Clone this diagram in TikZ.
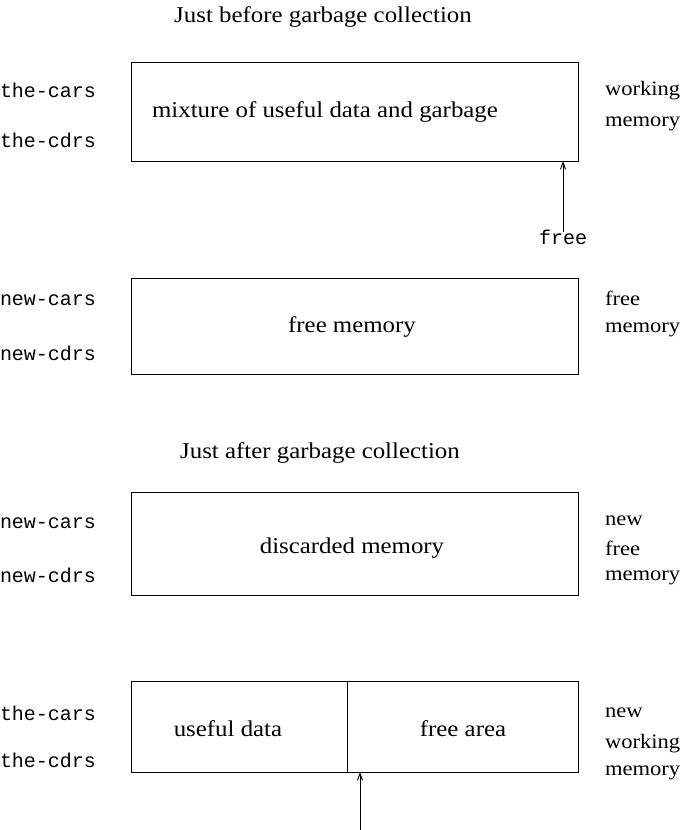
\documentclass[tikz,border=0pt]{standalone}
\usepackage{fontspec}
\setmainfont{Liberation Serif}[FakeStretch=1.1]
\setmonofont{Liberation Mono}
\usetikzlibrary{arrows.meta}
\begin{document}
\begin{tikzpicture}[x=1pt,y=1pt,
  every node/.style={inner sep=0pt,outer sep=0pt},
  txt/.style={font=\fontsize{22.6}{26}\selectfont},
  tt/.style={font=\fontsize{20}{22}\selectfont\ttfamily,anchor=west},
  rl/.style={font=\fontsize{20.5}{24}\selectfont,anchor=west},
  mem/.style={draw,line width=1pt,anchor=north west,minimum height=#1},
  arr/.style={line width=0.9pt,-{Straight Barb[length=7pt,width=5pt]}}]
\useasboundingbox (0,0) rectangle (686,-830);
% titles
\node[txt] (t1) at (323,-17) {Just before garbage collection};
\node[txt] (t2) at (320,-453) {Just after garbage collection};
% box 1
\node[mem=99pt,minimum width=447pt] (b1) at (131,-62) {};
\node[txt] at (325,-112) (m1) {mixture of useful data and garbage};
\node[tt] (l1a) at (0,-90) {the-cars};
\node[tt] (l1b) at (0,-140) {the-cdrs};
\node[rl] (r1a) at (605,-91) {working};
\node[rl] (r1b) at (605,-124) {memory};
\node[font=\fontsize{20}{22}\selectfont\ttfamily] (free) at (563,-237) {free};
\draw[arr] (free.north) ++(0,-2) coordinate (fs) -- (fs |- b1.south);
% box 2
\node[mem=96pt,minimum width=447pt] (b2) at (131,-278) {};
\node[txt] (m2) at (352,-327) {free memory};
\node[tt] (l2a) at (0,-300) {new-cars};
\node[tt] (l2b) at (0,-353) {new-cdrs};
\node[rl] (r2a) at (605,-298) {free};
\node[rl] (r2b) at (605,-330) {memory};
% box 3
\node[mem=103pt,minimum width=447pt] (b3) at (131,-492) {};
\node[txt] (m3) at (352,-548) {discarded memory};
\node[tt] (l3a) at (0,-523) {new-cars};
\node[tt] (l3b) at (0,-575) {new-cdrs};
\node[rl] (r3a) at (605,-521) {new};
\node[rl] (r3b) at (605,-548) {free};
\node[rl] (r3c) at (605,-578) {memory};
% box 4
\node[mem=91pt,minimum width=216pt] (b4a) at (131,-681) {};
\node[mem=91pt,minimum width=231pt] (b4b) at (347,-681) {};
\node[txt] (m4a) at (228,-729) {useful data};
\node[txt] (m4b) at (463,-729) {free area};
\node[tt] (l4a) at (0,-713) {the-cars};
\node[tt] (l4b) at (0,-760) {the-cdrs};
\node[rl] (r4a) at (605,-713) {new};
\node[rl] (r4b) at (605,-744) {working};
\node[rl] (r4c) at (605,-773) {memory};
\coordinate (p4) at (360,-830);
\draw[arr] (p4) -- (p4 |- b4b.south);
\end{tikzpicture}
\end{document}
